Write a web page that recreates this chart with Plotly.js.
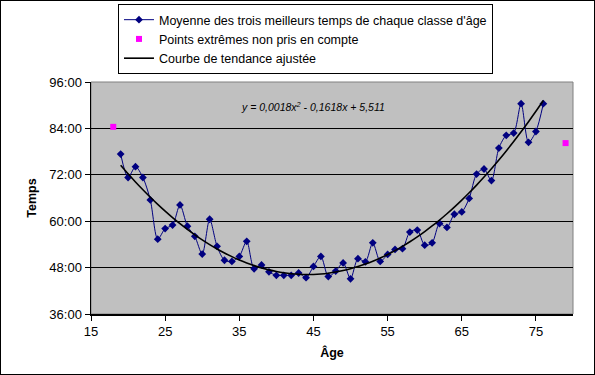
<!DOCTYPE html>
<html>
<head>
<meta charset="utf-8">
<script src="https://cdn.plot.ly/plotly-3.0.1.min.js"></script>
<style>
html,body{margin:0;padding:0;background:#fff;}
#chart{width:593px;height:373px;border:1px solid #000;}
</style>
</head>
<body>
<div id="chart"></div>
<script>
// Âge (years) and best-times average (minutes)
var ages = [19,20,21,22,23,24,25,26,27,28,29,30,31,32,33,34,35,36,37,38,39,40,41,42,43,44,45,46,47,48,49,50,51,52,53,54,55,56,57,58,59,60,61,62,63,64,65,66,67,68,69,70,71,72,73,74,75,76];
var temps = [77.35,71.3,74.1,71.3,65.5,55.35,58.1,59.0,64.2,58.7,56.1,51.5,60.5,53.5,49.9,49.6,50.9,54.8,47.7,48.7,46.9,46.0,46.0,46.0,46.6,45.4,48.3,50.9,45.7,47.1,49.2,45.1,50.3,49.5,54.4,49.6,51.4,52.7,52.9,57.2,57.7,53.8,54.4,59.4,58.4,61.8,62.4,65.9,72.2,73.5,70.5,78.9,82.2,82.8,90.4,80.4,83.2,90.4];
// Points not taken into account
var extremeAges = [18, 79];
var extremeTemps = [84.4, 80.2];
// Fitted quadratic trend coefficients (a, b, c) in the plotted unit
var trendCoef = [0.0445, -3.9338, 133.14];
var yTickVals = [36,48,60,72,84,96];
var yTickText = ["36:00","48:00","60:00","72:00","84:00","96:00"];
var xTickVals = [15,25,35,45,55,65,75];
var legendNames = ["Moyenne des trois meilleurs temps de chaque classe d'âge","Points extrêmes non pris en compte","Courbe de tendance ajustée"];

var trendY = ages.map(function(x){ return trendCoef[0]*x*x + trendCoef[1]*x + trendCoef[2]; });

var font = "Arial, 'Liberation Sans', sans-serif";

var data = [
  {x: ages, y: temps, name: legendNames[0], type: 'scatter', mode: 'lines+markers',
   line: {color: '#000080', width: 1, shape: 'spline', smoothing: 0.8},
   marker: {symbol: 'diamond', size: 6, color: '#000080'}},
  {x: extremeAges, y: extremeTemps, name: legendNames[1], type: 'scatter', mode: 'markers',
   marker: {symbol: 'square', size: 6, color: '#FF00FF'}},
  {x: ages, y: trendY, name: legendNames[2], type: 'scatter', mode: 'lines',
   line: {color: '#000000', width: 1.6, shape: 'spline'}}
];

var layout = {
  width: 593, height: 373,
  margin: {l: 90, r: 21, t: 81, b: 60, autoexpand: false},
  paper_bgcolor: '#ffffff',
  plot_bgcolor: '#C0C0C0',
  font: {family: font, size: 12, color: '#000'},
  showlegend: true,
  legend: {x: 0.056, y: 1.336, xanchor: 'left', yanchor: 'top',
           bgcolor: '#ffffff', bordercolor: '#000', borderwidth: 1,
           font: {family: font, size: 12.5, color: '#000'}, tracegroupgap: 0},
  xaxis: {range: [15, 80], tickvals: xTickVals, ticks: 'outside', ticklen: 5, tickcolor: '#000',
          showline: true, linecolor: '#000', linewidth: 1.5, showgrid: false, zeroline: false,
          tickfont: {size: 13}, title: {text: '<b>Âge</b>', font: {size: 12.5}, standoff: 10}},
  yaxis: {range: [36, 96], tickvals: yTickVals, ticktext: yTickText, ticks: 'outside', ticklen: 5, tickcolor: '#000',
          showline: true, linecolor: '#000', linewidth: 1.5, showgrid: true, gridcolor: '#000', gridwidth: 1,
          zeroline: false, tickfont: {size: 13}, title: {text: '<b>Temps</b>', font: {size: 12.5}, standoff: 10}},
  shapes: [{type: 'rect', xref: 'paper', yref: 'paper', x0: 0, x1: 1, y0: 0, y1: 1,
            line: {color: '#808080', width: 1}, layer: 'between'}],
  annotations: [{xref: 'paper', yref: 'paper', x: 0.46, y: 0.895, xanchor: 'center', yanchor: 'middle',
                 showarrow: false, text: '<i>y = 0,0018x<sup>2</sup> - 0,1618x + 5,511</i>',
                 font: {family: font, size: 10.5, color: '#000'}}]
};

Plotly.newPlot('chart', data, layout, {displayModeBar: false, staticPlot: true});
</script>
</body>
</html>
